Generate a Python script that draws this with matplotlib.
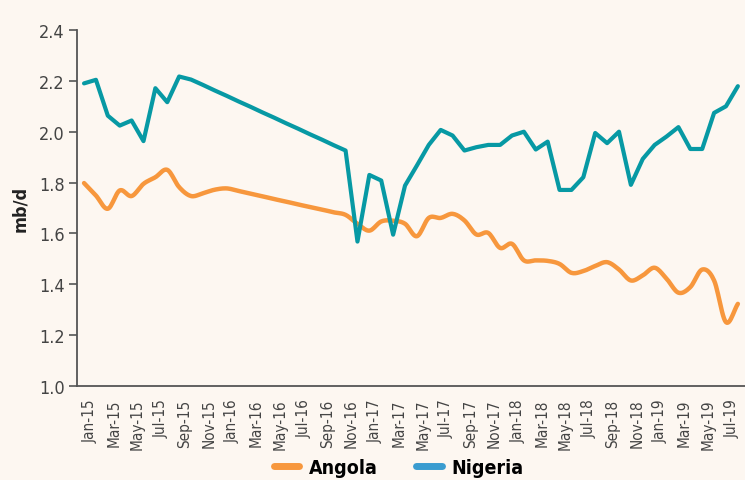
import numpy as np
import matplotlib
matplotlib.use("Agg")
import matplotlib.pyplot as plt
from matplotlib.lines import Line2D

months = ["Jan-15", "Feb-15", "Mar-15", "Apr-15", "May-15", "Jun-15", "Jul-15", "Aug-15", "Sep-15", "Oct-15", "Nov-15", "Dec-15",
          "Jan-16", "Feb-16", "Mar-16", "Apr-16", "May-16", "Jun-16", "Jul-16", "Aug-16", "Sep-16", "Oct-16", "Nov-16", "Dec-16",
          "Jan-17", "Feb-17", "Mar-17", "Apr-17", "May-17", "Jun-17", "Jul-17", "Aug-17", "Sep-17", "Oct-17", "Nov-17", "Dec-17",
          "Jan-18", "Feb-18", "Mar-18", "Apr-18", "May-18", "Jun-18", "Jul-18", "Aug-18", "Sep-18", "Oct-18", "Nov-18", "Dec-18",
          "Jan-19", "Feb-19", "Mar-19", "Apr-19", "May-19", "Jun-19", "Jul-19", "Aug-19"]

angola = [1.798, 1.749, 1.697, 1.769, 1.747, 1.795, 1.821, 1.850, 1.782, 1.747, 1.758, 1.772,
          1.777, 1.767, 1.756, 1.746, 1.735, 1.725, 1.714, 1.704, 1.694, 1.683, 1.673, 1.638,
          1.611, 1.647, 1.650, 1.638, 1.589, 1.661, 1.661, 1.677, 1.651, 1.596, 1.602, 1.543,
          1.559, 1.494, 1.494, 1.492, 1.480, 1.445, 1.452, 1.472, 1.487, 1.458, 1.415, 1.435,
          1.465, 1.422, 1.367, 1.389, 1.458, 1.415, 1.251, 1.323]

nigeria = [2.190, 2.204, 2.063, 2.024, 2.044, 1.963, 2.171, 2.116, 2.217, 2.205, 2.184, 2.162,
           2.141, 2.119, 2.098, 2.076, 2.055, 2.033, 2.012, 1.990, 1.969, 1.947, 1.926, 1.568,
           1.830, 1.808, 1.595, 1.788, 1.867, 1.948, 2.007, 1.985, 1.926, 1.939, 1.948, 1.948,
           1.985, 2.000, 1.930, 1.961, 1.771, 1.771, 1.821, 1.995, 1.955, 2.000, 1.791, 1.893,
           1.948, 1.981, 2.018, 1.932, 1.932, 2.074, 2.100, 2.179]

yticks = [1.0, 1.2, 1.4, 1.6, 1.8, 2.0, 2.2, 2.4]

bg = "#fdf7f1"
orange = "#f7973d"
teal = "#0799a4"
legend_blue = "#3a9cd0"


def smooth(x, y, n=12):
    # catmull-rom style curve through the points (Excel "smoothed line")
    x = np.asarray(x, float)
    y = np.asarray(y, float)
    px = np.concatenate([[2 * x[0] - x[1]], x, [2 * x[-1] - x[-2]]])
    py = np.concatenate([[2 * y[0] - y[1]], y, [2 * y[-1] - y[-2]]])
    t = np.linspace(0, 1, n, endpoint=False)
    xs, ys = [], []
    for i in range(1, len(px) - 2):
        for p, out in ((px, xs), (py, ys)):
            p0, p1, p2, p3 = p[i - 1], p[i], p[i + 1], p[i + 2]
            out.extend(0.5 * (2 * p1 + (-p0 + p2) * t + (2 * p0 - 5 * p1 + 4 * p2 - p3) * t ** 2
                              + (-p0 + 3 * p1 - 3 * p2 + p3) * t ** 3))
    xs.append(x[-1])
    ys.append(y[-1])
    return np.array(xs), np.array(ys)


plt.rcParams["font.family"] = ["DejaVu Sans"]
plt.rcParams["font.stretch"] = "condensed"

fig = plt.figure(figsize=(7.45, 4.81), dpi=100, facecolor=bg)
ax = fig.add_axes([0.1034, 0.1954, 0.8966, 0.7402])
ax.set_facecolor(bg)

idx = np.arange(len(months))
sx, sy = smooth(idx, angola)
ax.plot(sx, sy, color=orange, lw=3.2, solid_capstyle="round", solid_joinstyle="round")
ax.plot(idx, nigeria, color=teal, lw=3.0, solid_capstyle="round", solid_joinstyle="round")

ax.set_xlim(-0.59, 55.6)
ax.set_ylim(1.0, 2.4)
ax.set_yticks(yticks)
ax.set_yticklabels([f"{v:.1f}" for v in yticks], fontsize=13, color="#444444")
ax.tick_params(axis="y", length=6, width=1.2, color="#555555", pad=3)

ax.set_xticks(idx[::2] + 0.5)
ax.set_xticklabels(months[::2], rotation=90, fontsize=11, color="#444444")
ax.tick_params(axis="x", length=0, pad=9)

for s in ["top", "right"]:
    ax.spines[s].set_visible(False)
for s in ["left", "bottom"]:
    ax.spines[s].set_color("#555555")
    ax.spines[s].set_linewidth(1.3)

ax.set_ylabel("mb/d", fontsize=13, fontweight="bold", color="#222222", labelpad=7)

handles = [Line2D([], [], color=orange, lw=5, solid_capstyle="round"),
           Line2D([], [], color=legend_blue, lw=5, solid_capstyle="round")]
fig.legend(handles, ["Angola", "Nigeria"], loc="center", bbox_to_anchor=(0.535, 0.027),
           ncol=2, frameon=False, handlelength=1.3, columnspacing=2.0, handletextpad=0.5,
           prop={"weight": "bold", "size": 14})

fig.savefig("out.png", dpi=100, facecolor=bg)
